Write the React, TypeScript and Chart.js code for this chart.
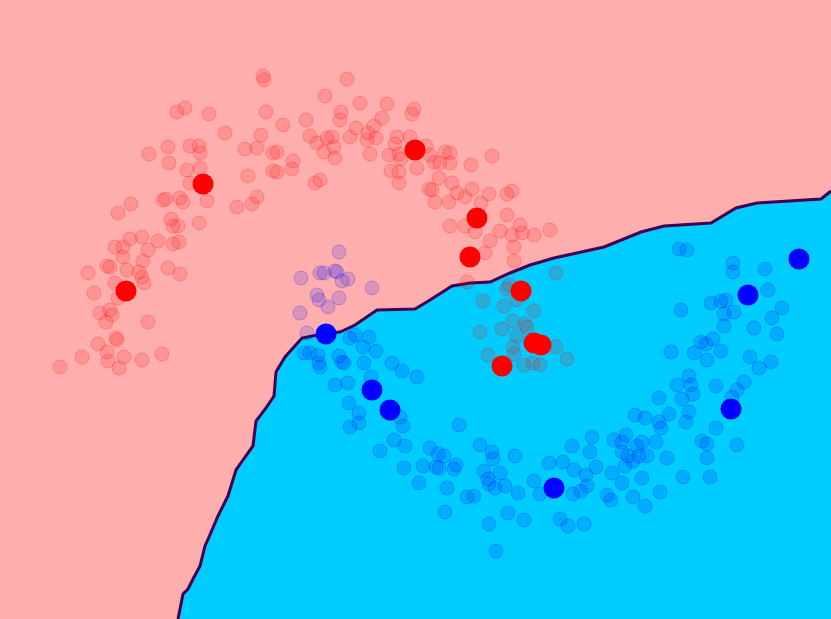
import React, { useEffect, useRef } from "react";
import { Chart, registerables } from "chart.js";

Chart.register(...registerables);

// Decision boundary polyline (x, y measured from top)
const boundaryX = [178, 183, 188, 193, 200, 205, 209, 218, 228, 236, 245, 253, 256, 266, 274, 276, 285, 302, 327, 340, 355, 377, 415, 430, 452, 470, 490, 510, 530, 554, 604, 641, 664, 711, 736, 757, 821, 831];
const boundaryY = [619, 594, 589, 579, 566, 546, 537, 516, 496, 470, 457, 446, 421, 408, 396, 372, 357, 338, 333, 332, 325, 310, 309, 300, 286, 283, 282, 273, 265, 258, 247, 232, 226, 223, 208, 203, 199, 191];

// Training points, class 0 (red)
const trainRed: [number, number][] = [
  [263, 76], [264, 80], [177, 112], [185, 108], [209, 114], [266, 112], [225, 133], [261, 135], [149, 154], [168, 147],
  [190, 146], [199, 146], [200, 153], [245, 149], [257, 148], [273, 153], [169, 163], [187, 170], [200, 168], [248, 176],
  [273, 171], [190, 183], [207, 201], [163, 200], [166, 199], [180, 198], [183, 202], [131, 204], [118, 213], [237, 207],
  [252, 204], [257, 197], [171, 219], [173, 226], [178, 226], [199, 223], [130, 239], [142, 237], [158, 241], [115, 247],
  [123, 247], [148, 250], [173, 244], [179, 242], [123, 257], [143, 261], [88, 273], [107, 266], [110, 267], [127, 270],
  [139, 272], [142, 277], [144, 283], [168, 268], [180, 274], [115, 283], [94, 293], [118, 298], [100, 313], [110, 310],
  [112, 315], [106, 322], [148, 322], [116, 338], [117, 340], [98, 344], [107, 352], [82, 357], [124, 357], [108, 361],
  [142, 360], [162, 354], [60, 367], [119, 368],
  [347, 79], [325, 96], [360, 103], [387, 104], [341, 112], [340, 120], [306, 120], [283, 125], [414, 109], [412, 114],
  [382, 118], [374, 126], [356, 128], [310, 136], [327, 138], [332, 137], [317, 143], [350, 137], [368, 133], [367, 140],
  [376, 138], [334, 147], [324, 152], [335, 158], [370, 154], [397, 137], [410, 137], [395, 144], [426, 146], [389, 155],
  [399, 154], [401, 159], [430, 155], [434, 162], [445, 152], [450, 153], [450, 163], [440, 163], [492, 156], [471, 165],
  [417, 168], [391, 171], [399, 172], [277, 152], [293, 161], [292, 169], [277, 172], [439, 178], [452, 183], [399, 183],
  [315, 183], [320, 180], [429, 189], [432, 190], [457, 193], [472, 189], [465, 197], [489, 194], [507, 194], [512, 191],
  [435, 202], [449, 202], [481, 203],
  [507, 215], [450, 226], [465, 226], [475, 232], [500, 231], [512, 235], [520, 225], [522, 233], [534, 235], [550, 230],
  [490, 241], [514, 247], [485, 253], [514, 261], [467, 282], [556, 273],
  [509, 285], [507, 289], [483, 301], [504, 306], [517, 300], [534, 311], [513, 321], [480, 332], [502, 329], [525, 324],
  [517, 336], [513, 347], [488, 355], [514, 354], [524, 365], [533, 363], [540, 365], [527, 327], [556, 347], [567, 359],
];

// Training points, class 1 (blue)
const trainBlue: [number, number][] = [
  [339, 252], [301, 278], [320, 273], [324, 273], [335, 271], [337, 272], [342, 281], [348, 279], [372, 288], [317, 295],
  [319, 300], [339, 298], [328, 307], [300, 313], [307, 333],
  [304, 353], [310, 353], [318, 355], [319, 363], [320, 367], [339, 356], [342, 362], [344, 363], [350, 338], [355, 335],
  [363, 347], [369, 337], [376, 351], [364, 363], [392, 363], [402, 371], [417, 377], [335, 385], [348, 383], [371, 377],
  [349, 403], [359, 413], [350, 427], [359, 423], [400, 417], [403, 426], [459, 425], [394, 440], [405, 446], [380, 451],
  [430, 448], [438, 454], [444, 456], [404, 468], [423, 466], [436, 467], [439, 468], [454, 469], [456, 465], [419, 483],
  [447, 488], [467, 497], [474, 496], [445, 512], [480, 445], [492, 452], [493, 459], [515, 456], [484, 471], [500, 473],
  [488, 479], [489, 484], [495, 488], [505, 486], [518, 493], [534, 481], [549, 463], [540, 494], [508, 513], [524, 520],
  [489, 524], [496, 551],
  [635, 415], [645, 418], [659, 422], [661, 428], [669, 414], [686, 422], [689, 412], [716, 428], [737, 445], [702, 441],
  [707, 444], [707, 458], [710, 477], [683, 477], [667, 458], [660, 492], [647, 456], [642, 478], [645, 506], [633, 497],
  [622, 483], [612, 473], [611, 500], [607, 495], [592, 437], [572, 446], [590, 452], [614, 440], [622, 442], [626, 435],
  [622, 452], [628, 456], [637, 446], [642, 442], [656, 442], [625, 466], [633, 461], [639, 456], [596, 467], [563, 462],
  [574, 470], [586, 475], [587, 486], [573, 494], [581, 491], [560, 519], [568, 526], [584, 524],
  [679, 249], [687, 250], [733, 263], [733, 272], [765, 269], [768, 290], [711, 303], [721, 301], [726, 300], [681, 310],
  [734, 312], [724, 314], [782, 308], [772, 318], [724, 326], [754, 328], [777, 334], [701, 342], [706, 344], [713, 339],
  [721, 351], [671, 352], [694, 353], [707, 360], [750, 357], [771, 362], [759, 368], [689, 376], [677, 385], [691, 385],
  [716, 386], [744, 382], [737, 390], [693, 394], [732, 397], [659, 398], [682, 399],
];

// Test points
const testRed: [number, number][] = [
  [203, 184], [415, 150], [477, 218], [470, 257], [521, 291], [534, 343], [541, 345], [502, 366], [126, 291],
];
const testBlue: [number, number][] = [
  [326, 334], [372, 390], [390, 410], [554, 488], [731, 409], [748, 295], [799, 259],
];

const toXY = (arr: [number, number][]) => arr.map(([x, y]) => ({ x, y }));

export default function App() {
  const ref = useRef<HTMLCanvasElement | null>(null);

  useEffect(() => {
    document.body.style.margin = "0";
    if (!ref.current) return;
    const bgPlugin = {
      id: "bg",
      beforeDraw(chart: any) {
        const { ctx, width, height } = chart;
        ctx.save();
        ctx.fillStyle = "rgb(255,174,174)";
        ctx.fillRect(0, 0, width, height);
        ctx.restore();
      },
    };
    const chart = new Chart(ref.current, {
      type: "scatter",
      data: {
        datasets: [
          {
            type: "line",
            label: "boundary",
            data: boundaryX.map((x, i) => ({ x, y: boundaryY[i] })),
            borderColor: "#440154",
            borderWidth: 3,
            backgroundColor: "#00ccff",
            fill: "start",
            pointRadius: 0,
            tension: 0,
            order: 3,
          } as any,
          {
            label: "train0",
            data: toXY(trainRed),
            backgroundColor: "rgba(255,0,0,0.15)",
            borderColor: "rgba(255,0,0,0.22)",
            borderWidth: 1,
            pointRadius: 7,
            order: 2,
          },
          {
            label: "train1",
            data: toXY(trainBlue),
            backgroundColor: "rgba(0,0,255,0.15)",
            borderColor: "rgba(0,0,255,0.22)",
            borderWidth: 1,
            pointRadius: 7,
            order: 2,
          },
          {
            label: "test0",
            data: toXY(testRed),
            backgroundColor: "#ff0000",
            borderWidth: 0,
            pointRadius: 10.5,
            order: 1,
          },
          {
            label: "test1",
            data: toXY(testBlue),
            backgroundColor: "#0000ff",
            borderWidth: 0,
            pointRadius: 10.5,
            order: 1,
          },
        ],
      },
      options: {
        animation: false,
        responsive: false,
        events: [],
        layout: { padding: 0, autoPadding: false },
        plugins: { legend: { display: false }, tooltip: { enabled: false } },
        scales: {
          x: { type: "linear", min: 0, max: 831, display: false },
          y: { type: "linear", min: 0, max: 619, reverse: true, display: false },
        },
      },
      plugins: [bgPlugin],
    });
    return () => chart.destroy();
  }, []);

  return (
    <div style={{ position: "fixed", left: 0, top: 0, width: 831, height: 619 }}>
      <canvas ref={ref} width={831} height={619} style={{ display: "block" }} />
    </div>
  );
}
